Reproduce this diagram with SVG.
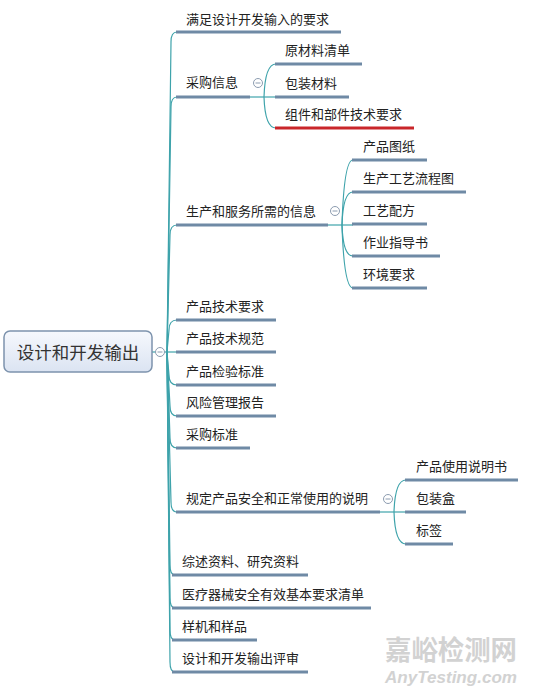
<svg xmlns="http://www.w3.org/2000/svg" width="534" height="691" viewBox="0 0 534 691">
<defs>
<linearGradient id="cg" x1="0" y1="0" x2="0" y2="1">
<stop offset="0" stop-color="#f6f8fd"/>
<stop offset="1" stop-color="#dbe4f2"/>
</linearGradient>
<style>
text{font-family:"Noto Sans CJK SC","Noto Sans",sans-serif;font-size:13px;fill:#222}
.ul{stroke:#6f8aa5;stroke-width:3;fill:none}
.red{stroke:#c9262a;stroke-width:3;fill:none}
.cn{stroke:#3ea3ab;stroke-width:1.2;fill:none}
.tg circle{fill:#fff;stroke:#8c9cb0;stroke-width:1}
.tg line{stroke:#8c9cb0;stroke-width:1}
.wm{fill:#d2d2d2;font-weight:bold}
</style>
</defs>
<rect width="534" height="691" fill="#fff"/>

<g id="connectors">
<line class="cn" x1="152" y1="352" x2="167" y2="352"/>
<path class="cn" d="M167 352 L171 42 Q171 32 177 32"/>
<path class="cn" d="M167 352 L171 107 Q171 97 177 97"/>
<path class="cn" d="M167 352 L170 235 Q170 225 177 225"/>
<path class="cn" d="M167 352 L169 330 Q169 320 177 320"/>
<path class="cn" d="M167 352 L177 352"/>
<path class="cn" d="M167 352 L169 375 Q169 385 177 385"/>
<path class="cn" d="M167 352 L170 406 Q170 416 177 416"/>
<path class="cn" d="M167 352 L170 438 Q170 448 177 448"/>
<path class="cn" d="M167 352 L171 502 Q171 512 177 512"/>
<path class="cn" d="M167 352 L170 565 Q170 575 175 575"/>
<path class="cn" d="M167 352 L170 598 Q170 608 175 608"/>
<path class="cn" d="M167 352 L170 630 Q170 640 175 640"/>
<path class="cn" d="M167 352 L170 662 Q170 672 175 672"/>
<line class="cn" x1="250" y1="97" x2="264" y2="97"/>
<path class="cn" d="M264 97 Q265 64 276 64"/>
<path class="cn" d="M264 97 L276 97"/>
<path class="cn" d="M264 97 Q265 128 276 128"/>
<line class="cn" x1="328" y1="225" x2="342" y2="225"/>
<path class="cn" d="M342 225 Q344 160 353 160"/>
<path class="cn" d="M342 225 Q343 192 353 192"/>
<path class="cn" d="M342 225 L353 225"/>
<path class="cn" d="M342 225 Q343 256 353 256"/>
<path class="cn" d="M342 225 Q344 288 353 288"/>
<line class="cn" x1="380" y1="512" x2="394" y2="512"/>
<path class="cn" d="M394 512 Q395 480 406 480"/>
<path class="cn" d="M394 512 L406 512"/>
<path class="cn" d="M394 512 Q395 544 406 544"/>
</g>

<g id="root">
<rect x="4" y="331" width="148" height="41" rx="6" fill="url(#cg)" stroke="#7d93ad" stroke-width="1.5"/>
<text x="78" y="359" text-anchor="middle" style="font-size:17.5px;fill:#333">设计和开发输出</text>
<g class="tg"><circle cx="160" cy="352" r="4.5"/><line x1="157.5" y1="352" x2="162.5" y2="352"/></g>
</g>

<g id="n1"><line class="ul" x1="176" y1="32" x2="341" y2="32"/><text x="186" y="24">满足设计开发输入的要求</text></g>
<g id="n2"><line class="ul" x1="176" y1="97" x2="250" y2="97"/><text x="186" y="87">采购信息</text>
<g class="tg"><circle cx="258" cy="83" r="4.5"/><line x1="255.5" y1="83" x2="260.5" y2="83"/></g></g>
<g id="n2a"><line class="ul" x1="275" y1="64" x2="362" y2="64"/><text x="285" y="55">原材料清单</text></g>
<g id="n2b"><line class="ul" x1="275" y1="97" x2="349" y2="97"/><text x="285" y="88">包装材料</text></g>
<g id="n2c"><line class="red" x1="275" y1="128" x2="414" y2="128"/><text x="285" y="119">组件和部件技术要求</text></g>

<g id="n3"><line class="ul" x1="176" y1="225" x2="328" y2="225"/><text x="186" y="216">生产和服务所需的信息</text>
<g class="tg"><circle cx="335" cy="211" r="4.5"/><line x1="332.5" y1="211" x2="337.5" y2="211"/></g></g>
<g id="n3a"><line class="ul" x1="352" y1="160" x2="427" y2="160"/><text x="363" y="151">产品图纸</text></g>
<g id="n3b"><line class="ul" x1="352" y1="192" x2="466" y2="192"/><text x="363" y="183">生产工艺流程图</text></g>
<g id="n3c"><line class="ul" x1="352" y1="224" x2="427" y2="224"/><text x="363" y="215">工艺配方</text></g>
<g id="n3d"><line class="ul" x1="352" y1="256" x2="440" y2="256"/><text x="363" y="247">作业指导书</text></g>
<g id="n3e"><line class="ul" x1="352" y1="288" x2="427" y2="288"/><text x="363" y="279">环境要求</text></g>

<g id="n4"><line class="ul" x1="176" y1="320" x2="276" y2="320"/><text x="186" y="311">产品技术要求</text></g>
<g id="n5"><line class="ul" x1="176" y1="352" x2="276" y2="352"/><text x="186" y="343">产品技术规范</text></g>
<g id="n6"><line class="ul" x1="176" y1="385" x2="276" y2="385"/><text x="186" y="376">产品检验标准</text></g>
<g id="n7"><line class="ul" x1="176" y1="416" x2="276" y2="416"/><text x="186" y="407">风险管理报告</text></g>
<g id="n8"><line class="ul" x1="176" y1="448" x2="250" y2="448"/><text x="186" y="439">采购标准</text></g>

<g id="n9"><line class="ul" x1="176" y1="512" x2="380" y2="512"/><text x="186" y="503">规定产品安全和正常使用的说明</text>
<g class="tg"><circle cx="388" cy="499" r="4.5"/><line x1="385.5" y1="499" x2="390.5" y2="499"/></g></g>
<g id="n9a"><line class="ul" x1="405" y1="480" x2="518" y2="480"/><text x="416" y="471">产品使用说明书</text></g>
<g id="n9b"><line class="ul" x1="405" y1="512" x2="466" y2="512"/><text x="416" y="503">包装盒</text></g>
<g id="n9c"><line class="ul" x1="405" y1="544" x2="453" y2="544"/><text x="416" y="535">标签</text></g>

<g id="n10"><line class="ul" x1="172" y1="575" x2="308" y2="575"/><text x="182" y="566">综述资料、研究资料</text></g>
<g id="n11"><line class="ul" x1="172" y1="608" x2="371" y2="608"/><text x="182" y="599">医疗器械安全有效基本要求清单</text></g>
<g id="n12"><line class="ul" x1="172" y1="640" x2="257" y2="640"/><text x="182" y="631">样机和样品</text></g>
<g id="n13"><line class="ul" x1="172" y1="672" x2="308" y2="672"/><text x="182" y="663">设计和开发输出评审</text></g>

<g id="watermark">
<text class="wm" x="385" y="660" textLength="132" lengthAdjust="spacingAndGlyphs" style="font-size:27px;fill:#d2d2d2">嘉峪检测网</text>
<text class="wm" x="385" y="683" textLength="132" lengthAdjust="spacingAndGlyphs" style="font-family:'Liberation Sans',sans-serif;font-size:17px;font-style:italic;fill:#d2d2d2">AnyTesting.com</text>
</g>
</svg>
